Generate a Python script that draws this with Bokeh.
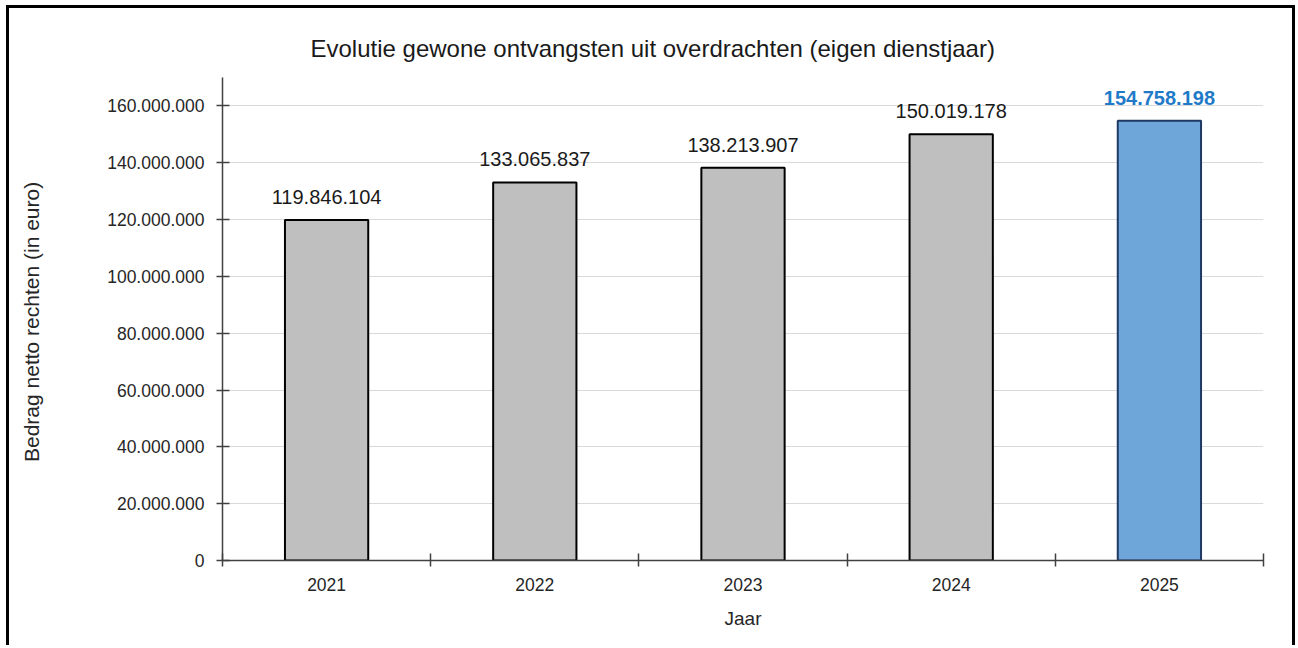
from bokeh.plotting import figure
from bokeh.models import ColumnDataSource, FixedTicker, LabelSet, Range1d
from bokeh.core.properties import value
from bokeh.embed import file_html
from bokeh.resources import INLINE

years = ["2021", "2022", "2023", "2024", "2025"]
values = [119846104, 133065837, 138213907, 150019178, 154758198]
y_ticks = [0, 20000000, 40000000, 60000000, 80000000, 100000000, 120000000, 140000000, 160000000]
title_text = "Evolutie gewone ontvangsten uit overdrachten (eigen dienstjaar)"
y_label = "Bedrag netto rechten  (in euro)"
x_label = "Jaar"


def fmt(v):
    return f"{v:,}".replace(",", ".")


FONT = "Liberation Sans"
xs = [i + 0.5 for i in range(len(years))]
fills = ["#bfbfbf"] * 4 + ["#6ea6da"]
lines = ["#000000"] * 4 + ["#1f3864"]
lcols = ["#1a1a1a"] * 4 + ["#1f7ac8"]
lstyles = ["normal"] * 4 + ["bold"]

src = ColumnDataSource(dict(x=xs, top=values, fill=fills, line=lines,
                            label=[fmt(v) for v in values], lcol=lcols, lstyle=lstyles))

p = figure(width=1289, height=640, output_backend="svg", toolbar_location=None,
           x_range=Range1d(0, 5), y_range=Range1d(0, 170000000),
           min_border_left=213, min_border_right=35, min_border_top=69, min_border_bottom=88)
p.styles = {"border-top": "3px solid black", "border-left": "3px solid black",
            "border-right": "3px solid black", "margin-left": "6px", "margin-top": "5px"}

p.vbar(x="x", top="top", bottom=0, width=0.4, fill_color="fill", line_color="line",
       line_width=2, source=src)

labels = LabelSet(x="x", y="top", text="label", source=src, text_align="center",
                  text_baseline="alphabetic", y_offset=16, text_font_size=value("20px"),
                  text_font=value(FONT), text_color="lcol", text_font_style="lstyle")
p.add_layout(labels)

p.title.text = title_text
p.title.align = "left"
p.title.offset = 88
p.title.text_font = FONT
p.title.text_font_size = "24px"
p.title.text_font_style = "normal"
p.title.text_color = "#1a1a1a"
p.title.standoff = 32

p.outline_line_color = None
p.xgrid.visible = False
p.ygrid.grid_line_color = "#d9d9d9"
p.ygrid.grid_line_width = 1

# y axis
p.yaxis.ticker = FixedTicker(ticks=y_ticks, minor_ticks=[])
p.yaxis.major_label_overrides = {t: fmt(t) for t in y_ticks}
p.yaxis.axis_label = y_label
for ax in (p.yaxis[0], p.xaxis[0]):
    ax.axis_line_color = "#404040"
    ax.axis_line_width = 1.5
    ax.major_label_text_font = FONT
    ax.major_label_text_font_size = "17.5px"
    ax.major_label_text_color = "#262626"
    ax.axis_label_text_font = FONT
    ax.axis_label_text_font_style = "normal"
    ax.axis_label_text_color = "#262626"
p.yaxis.major_tick_in = 7
p.yaxis.major_tick_out = 6
p.yaxis.major_tick_line_color = "#404040"
p.yaxis.major_tick_line_width = 1.5
p.yaxis.major_label_standoff = 12
p.yaxis.axis_label_text_font_size = "21px"
p.yaxis.axis_label_standoff = 61

# x axis
p.xaxis.ticker = FixedTicker(ticks=xs, minor_ticks=[0, 1, 2, 3, 4, 5])
p.xaxis.major_label_overrides = {x: y for x, y in zip(xs, years)}
p.xaxis.major_tick_line_color = None
p.xaxis.major_tick_in = 0
p.xaxis.major_tick_out = 6
p.xaxis.major_label_standoff = 11
p.xaxis.minor_tick_in = 7
p.xaxis.minor_tick_out = 6
p.xaxis.minor_tick_line_color = "#404040"
p.xaxis.minor_tick_line_width = 1.5
p.xaxis.axis_label = x_label
p.xaxis.axis_label_text_font_size = "19px"
p.xaxis.axis_label_standoff = 14

open("out.html", "w").write(file_html(p, INLINE))
